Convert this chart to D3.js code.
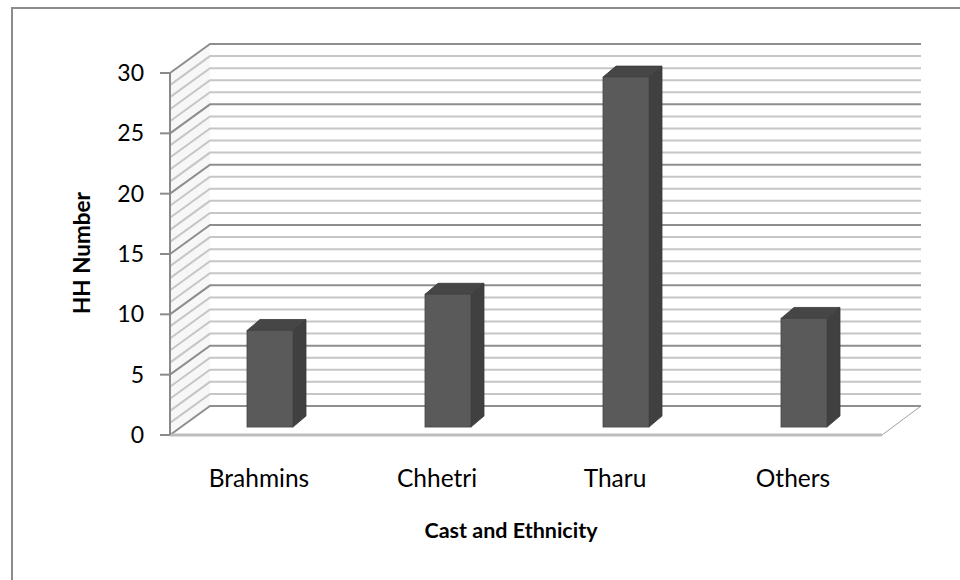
<!DOCTYPE html>
<html lang="en">
  <head>
    <meta charset="UTF-8" />
    <title>HH Number by Cast and Ethnicity</title>
    <script src="https://d3js.org/d3.v7.min.js"></script>
    <style>
      body { margin: 0; background: #fff; }
      text { font-family: Lato, "Open Sans", sans-serif; fill: #000; }
    </style>
  </head>

  <body>
    <svg width="960" height="580"></svg>

    <script>
      // chart data
      const categories = ["Brahmins", "Chhetri", "Tharu", "Others"];
      const values = [8, 11, 29, 9];
      const yTicks = [0, 5, 10, 15, 20, 25, 30];
      const xTitle = "Cast and Ethnicity";
      const yTitle = "HH Number";

      const svg = d3.select("svg");

      // front plane of the 3D box and its depth offset
      const left = 170, right = 882;
      const depthX = 40, depthY = -29;
      const barDx = 13, barDy = -11;   // bar depth
      const barFront = 0.275;           // bar front position inside the floor depth
      const barW = 46;

      const x = d3.scaleBand().domain(categories).range([left, right]);
      const y = d3.scaleLinear().domain([0, 30]).range([435, 73]);

      // outer chart border (only top and left visible)
      svg.append("path")
        .attr("d", "M12,580 L12,8 L960,8")
        .attr("fill", "none")
        .attr("stroke", "#8c8c8c")
        .attr("stroke-width", 2);

      // side wall
      svg.append("path")
        .attr("d", `M${left},${y(0)} L${left},${y(30)} L${left + depthX},${y(30) + depthY} L${left + depthX},${y(0) + depthY} Z`)
        .attr("fill", "#f7f7f7");

      // gridlines every unit: diagonal on side wall, horizontal on back wall
      const grid = d3.range(0, 31);
      svg.append("g")
        .selectAll("path")
        .data(grid)
        .join("path")
        .attr("d", v => `M${left},${y(v)} L${left + depthX},${y(v) + depthY} L${right + depthX - 1},${y(v) + depthY}`)
        .attr("fill", "none")
        .attr("stroke", v => (v % 5 === 0 ? "#8e8e8e" : "#c6c6c6"))
        .attr("stroke-width", 2);

      // floor edges
      svg.append("line")
        .attr("x1", left).attr("x2", right)
        .attr("y1", y(0)).attr("y2", y(0))
        .attr("stroke", "#bdbdbd").attr("stroke-width", 3);
      svg.append("line")
        .attr("x1", right).attr("x2", right + depthX - 1)
        .attr("y1", y(0)).attr("y2", y(0) + depthY)
        .attr("stroke", "#a0a0a0").attr("stroke-width", 1);

      // y axis line + ticks
      svg.append("line")
        .attr("x1", left).attr("x2", left)
        .attr("y1", y(0)).attr("y2", y(30))
        .attr("stroke", "#8a8a8a").attr("stroke-width", 2);

      const yAxis = svg.append("g");
      yAxis.selectAll("line")
        .data(yTicks)
        .join("line")
        .attr("x1", left - 10).attr("x2", left)
        .attr("y1", d => y(d)).attr("y2", d => y(d))
        .attr("stroke", "#8a8a8a").attr("stroke-width", 2);
      yAxis.selectAll("text")
        .data(yTicks)
        .join("text")
        .attr("x", left - 26)
        .attr("y", d => y(d))
        .attr("dy", "0.35em")
        .attr("text-anchor", "end")
        .attr("font-size", 23)
        .text(d => d);

      // bars
      const bars = svg.append("g")
        .selectAll("g")
        .data(categories.map((c, i) => ({ c, v: values[i] })))
        .join("g");

      const fx = d => x(d.c) + x.bandwidth() / 2 + depthX * barFront - barW / 2;
      const fy0 = () => y(0) + depthY * barFront;
      const fy1 = d => fy0() - (y(0) - y(d.v));

      // side face
      bars.append("path")
        .attr("d", d => {
          const x1 = fx(d) + barW;
          return `M${x1},${fy0()} L${x1},${fy1(d)} L${x1 + barDx},${fy1(d) + barDy} L${x1 + barDx},${fy0() + barDy} Z`;
        })
        .attr("fill", "#404040")
        .attr("stroke", "#3a3a3a")
        .attr("stroke-width", 0.8);
      // top face
      bars.append("path")
        .attr("d", d => {
          const x0 = fx(d), x1 = x0 + barW, t = fy1(d);
          return `M${x0},${t} L${x0 + barDx},${t + barDy} L${x1 + barDx},${t + barDy} L${x1},${t} Z`;
        })
        .attr("fill", "#464646")
        .attr("stroke", "#3a3a3a")
        .attr("stroke-width", 0.8);
      // front face
      bars.append("rect")
        .attr("x", fx)
        .attr("y", fy1)
        .attr("width", barW)
        .attr("height", d => fy0() - fy1(d))
        .attr("fill", "#5a5a5a")
        .attr("stroke", "#444")
        .attr("stroke-width", 0.8);

      // category labels
      svg.append("g")
        .selectAll("text")
        .data(categories)
        .join("text")
        .attr("x", d => x(d) + x.bandwidth() / 2)
        .attr("y", 487)
        .attr("text-anchor", "middle")
        .attr("font-size", 24.5)
        .text(d => d);

      // axis titles
      svg.append("text")
        .attr("x", 511)
        .attr("y", 538)
        .attr("text-anchor", "middle")
        .attr("font-size", 21.5)
        .attr("font-weight", "bold")
        .text(xTitle);

      svg.append("text")
        .attr("transform", "translate(90,253) rotate(-90)")
        .attr("text-anchor", "middle")
        .attr("font-size", 22.5)
        .attr("font-weight", "bold")
        .text(yTitle);
    </script>
  </body>
</html>
